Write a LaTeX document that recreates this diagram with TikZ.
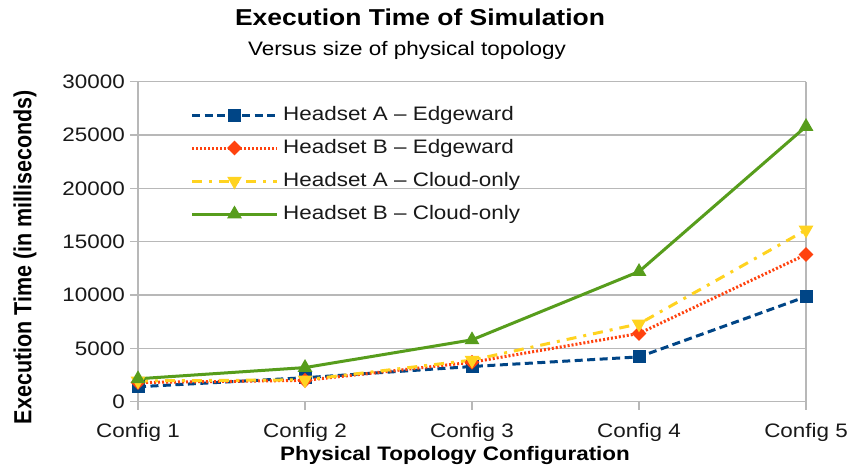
\documentclass[tikz,border=0pt]{standalone}
\usepackage{fontspec}
\setmainfont[FakeStretch=1.15]{Liberation Sans}
\newfontfamily\flatsans{Liberation Sans}
\usetikzlibrary{shapes.geometric}

\definecolor{serA}{HTML}{004586}
\definecolor{serB}{HTML}{FF420E}
\definecolor{serC}{HTML}{FFD320}
\definecolor{serD}{HTML}{579D1C}
\definecolor{gridc}{HTML}{B8B8B8}

% value (thousands of ms) -> vertical position
\newcommand\tyv[1]{401.7-#1*10.6667}

\tikzset{
  gridline/.style={draw=gridc, line width=1.4pt},
  ticklab/.style={font=\fontsize{19.5}{20}\selectfont, text=black!90, inner sep=0pt},
  serAline/.style={draw=serA, line width=3pt, dash pattern=on 8pt off 4.5pt},
  serBline/.style={draw=serB, line width=3pt, dash pattern=on 2pt off 2pt},
  serCline/.style={draw=serC, line width=3pt, dash pattern=on 10pt off 7pt on 3pt off 7pt},
  serDline/.style={draw=serD, line width=3pt},
  mksq/.style={rectangle, fill=serA, minimum size=13pt, inner sep=0pt},
  mkdia/.style={diamond, fill=serB, minimum size=15pt, inner sep=0pt},
  mkdown/.style={regular polygon, regular polygon sides=3, shape border rotate=180, fill=serC, minimum size=17pt, inner sep=0pt},
  mkup/.style={regular polygon, regular polygon sides=3, fill=serD, minimum size=17pt, inner sep=0pt},
  legtext/.style={font=\fontsize{19.5}{20}\selectfont, text=black!90, anchor=west, inner sep=0pt},
}

\begin{document}
\begin{tikzpicture}[x=1pt, y=-1pt, line join=round]
\useasboundingbox (0,0) rectangle (850,469);
\fill[white] (0,0) rectangle (850,469);

% horizontal grid lines with their tick marks
\foreach \k/\lab in {0/0,5/5000,10/10000,15/15000,20/20000,25/25000,30/30000} {
  \coordinate (gl\k) at (130,{\tyv{\k}});
  \coordinate (gr\k) at (806,{\tyv{\k}});
  \draw[gridline] (gl\k) -- (gr\k);
  \node[ticklab, anchor=east] (yl\k) at (125,{\tyv{\k}}) {\lab};
}
% vertical frame lines
\coordinate (axL0) at (138,81.7);
\coordinate (axL1) at (138,410);
\coordinate (axR0) at (806,81.7);
\coordinate (axR1) at (806,410);
\draw[gridline] (axL0) -- (axL1);
\draw[gridline] (axR0) -- (axR1);
% category ticks and labels
\foreach \i/\xx in {1/138,2/305,3/472,4/639,5/806} {
  \coordinate (ct\i) at (\xx,401.7);
  \coordinate (cb\i) at (\xx,410);
  \draw[gridline] (ct\i) -- (cb\i);
  \node[ticklab] (cl\i) at (\xx,432) {Config \i};
}

% axis titles and headings
\node[font=\bfseries\fontsize{19.5}{20}\selectfont, inner sep=0pt] (xt) at (455,455) {Physical Topology Configuration};
\node[font=\flatsans\bfseries\fontsize{21.5}{22}\selectfont, inner sep=0pt, transform shape, xscale=1.15, rotate=90] (yt) at (25,257) {Execution Time (in milliseconds)};
\node[font=\bfseries\fontsize{23}{24}\selectfont, inner sep=0pt] (ttl) at (420,17) {Execution Time of Simulation};
\node[font=\fontsize{19.5}{20}\selectfont, inner sep=0pt] (sub) at (407,50) {Versus size of physical topology};

% data points (thousands of ms)
\foreach \s/\a/\b/\c/\d/\e in {
  A/1.40/2.25/3.30/4.20/9.85,
  B/1.80/2.00/3.70/6.40/13.80,
  C/1.95/2.05/3.90/7.30/16.10,
  D/2.15/3.20/5.80/12.20/25.80} {
  \coordinate (\s1) at (138,{\tyv{\a}});
  \coordinate (\s2) at (305,{\tyv{\b}});
  \coordinate (\s3) at (472,{\tyv{\c}});
  \coordinate (\s4) at (639,{\tyv{\d}});
  \coordinate (\s5) at (806,{\tyv{\e}});
}

% series lines
\draw[serAline] (A1) -- (A2) -- (A3) -- (A4) -- (A5);
\draw[serBline] (B1) -- (B2) -- (B3) -- (B4) -- (B5);
\draw[serCline] (C1) -- (C2) -- (C3) -- (C4) -- (C5);
\draw[serDline] (D1) -- (D2) -- (D3) -- (D4) -- (D5);

% markers
\foreach \i in {1,...,5} {
  \node[mksq] (mA\i) at (A\i) {};
  \node[mkdia] (mB\i) at (B\i) {};
  \node[mkdown] (mC\i) at (C\i) {};
  \node[mkup] (mD\i) at (D\i) {};
}

% legend
\foreach \s/\yy/\txt in {
  A/115/{Headset A -- Edgeward},
  B/148/{Headset B -- Edgeward},
  C/181/{Headset A -- Cloud-only},
  D/214/{Headset B -- Cloud-only}} {
  \coordinate (lg\s0) at (192,\yy);
  \coordinate (lg\s1) at (277,\yy);
  \node[legtext] (lt\s) at (283,\yy) {\txt};
}
\draw[serAline] (lgA0) -- (lgA1);
\draw[serBline] (lgB0) -- (lgB1);
\draw[serCline] (lgC0) -- (lgC1);
\draw[serDline] (lgD0) -- (lgD1);
\node[mksq] (lmA) at (234.5,115) {};
\node[mkdia] (lmB) at (234.5,148) {};
\node[mkdown] (lmC) at (234.5,181) {};
\node[mkup] (lmD) at (234.5,214) {};
\end{tikzpicture}
\end{document}
